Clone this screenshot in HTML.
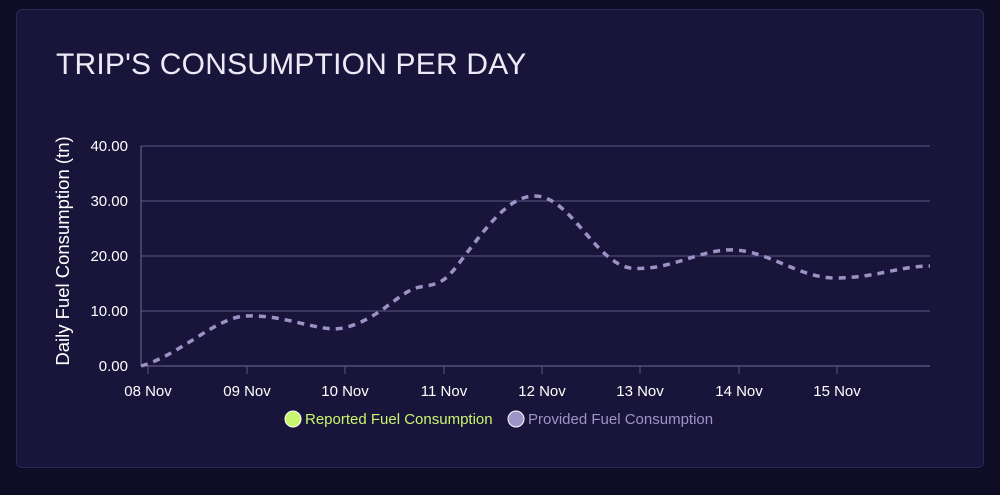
<!DOCTYPE html>
<html><head><style>
body{margin:0;width:1000px;height:495px;background:#0f0c25;overflow:hidden;font-family:"Liberation Sans",sans-serif}
.card{position:absolute;left:16px;top:9px;width:966px;height:457px;background:#19153a;border:1px solid #2a2652;border-radius:6px}
.t{position:absolute;left:56px;top:48px;font-size:30px;color:#eceaf7;letter-spacing:0.2px}
</style></head><body>
<div class="card"></div>
<div class="t">TRIP'S CONSUMPTION PER DAY</div>
<svg width="1000" height="495" style="position:absolute;left:0;top:0" font-family="Liberation Sans, sans-serif">
<g stroke="#5a5687" stroke-width="1">
<line x1="141" y1="146" x2="930" y2="146"/><line x1="141" y1="201" x2="930" y2="201"/>
<line x1="141" y1="256" x2="930" y2="256"/><line x1="141" y1="311" x2="930" y2="311"/>
<line x1="141" y1="366" x2="930" y2="366" stroke="#6f6b98"/>
<line x1="141" y1="146" x2="141" y2="366" stroke="#6f6b98"/>
<line x1="148" y1="366" x2="148" y2="374"/><line x1="247" y1="366" x2="247" y2="374"/>
<line x1="345" y1="366" x2="345" y2="374"/><line x1="444" y1="366" x2="444" y2="374"/>
<line x1="542" y1="366" x2="542" y2="374"/><line x1="640" y1="366" x2="640" y2="374"/>
<line x1="739" y1="366" x2="739" y2="374"/><line x1="837" y1="366" x2="837" y2="374"/>
</g>
<g fill="#fff" font-size="15" text-anchor="end">
<text x="128" y="151">40.00</text><text x="128" y="206">30.00</text><text x="128" y="261">20.00</text><text x="128" y="316">10.00</text><text x="128" y="371">0.00</text>
</g>
<g fill="#fff" font-size="15" text-anchor="middle">
<text x="148" y="396">08 Nov</text><text x="247" y="396">09 Nov</text><text x="345" y="396">10 Nov</text><text x="444" y="396">11 Nov</text>
<text x="542" y="396">12 Nov</text><text x="640" y="396">13 Nov</text><text x="739" y="396">14 Nov</text><text x="837" y="396">15 Nov</text>
</g>
<text transform="translate(69,251) rotate(-90)" fill="#fff" font-size="18.5" text-anchor="middle">Daily Fuel Consumption (tn)</text>
<path d="M141,366 C180,355 215,318 245,316 C285,314 320,333 343,328 C380,320 400,290 420,287 C440,284 445,282 460,262 C490,222 510,196 535,196 C570,196 595,262 630,268 C670,272 700,248 735,250 C770,252 800,278 835,278 C875,278 900,266 930,266" fill="none" stroke="#9b92c6" stroke-width="3.5" stroke-dasharray="7,6"/>
<circle cx="293" cy="419" r="8" fill="#c8f56e" stroke="#fff" stroke-width="1"/>
<text x="305" y="424" fill="#c8f56e" font-size="15">Reported Fuel Consumption</text>
<circle cx="516" cy="419" r="8" fill="#9d94c8" stroke="#fff" stroke-width="1"/>
<text x="528" y="424" fill="#9d94c8" font-size="15">Provided Fuel Consumption</text>
</svg>
</body></html>
